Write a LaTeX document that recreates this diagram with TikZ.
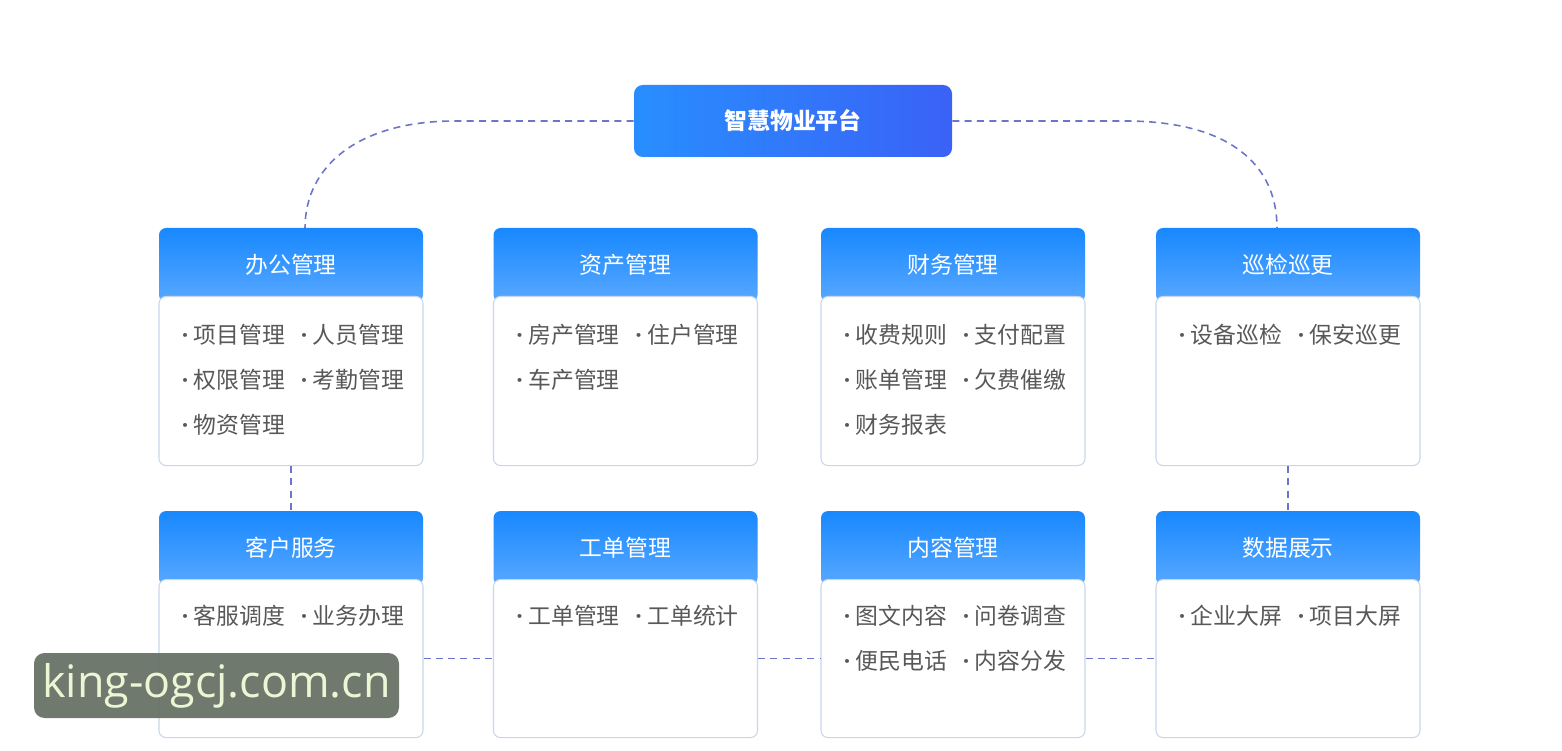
\documentclass[tikz,border=0pt]{standalone}
\usepackage{fontspec}
\usepackage{array}
\setmainfont{Noto Sans CJK SC}
\newfontfamily\wmfont{Open Sans}
\usetikzlibrary{positioning}
\definecolor{hdtop}{RGB}{24,136,255}
\definecolor{hdbot}{RGB}{88,168,255}
\definecolor{ttlleft}{RGB}{40,142,255}
\definecolor{ttlright}{RGB}{58,98,246}
\definecolor{cardline}{RGB}{200,214,238}
\definecolor{itemgray}{RGB}{88,88,88}
\definecolor{linkblue}{RGB}{108,118,200}
\definecolor{wmbg}{RGB}{104,114,102}
\definecolor{wmtext}{RGB}{234,246,212}
% 列表列格式：窄圆点 + 文字
\newcolumntype{D}{>{\makebox[0.24cm][l]{\wmfont\bfseries·}}p{2.38cm}}
\newcolumntype{E}{>{\makebox[0.24cm][l]{\wmfont\bfseries·}}l}
\begin{document}
\begin{tikzpicture}[
        every node/.style={
            font=\fontsize{13}{25.6}\selectfont
        },
        platform/.style={
            minimum width=6.36cm,
            minimum height=1.44cm,
            rounded corners=5pt,
            left color=ttlleft,
            right color=ttlright,
            text=white,
            font=\fontsize{13}{15}\selectfont\bfseries
        },
        header/.style={
            minimum width=5.28cm,
            minimum height=1.48cm,
            inner sep=0pt,
            outer sep=0pt,
            rounded corners=4pt,
            top color=hdtop,
            bottom color=hdbot,
            text=white
        },
        body/.style={
            minimum width=5.28cm,
            draw=cardline,
            line width=0.6pt,
            fill=white,
            rounded corners=4pt
        },
        items/.style={
            anchor=north west,
            inner sep=0pt,
            text=itemgray
        },
        link/.style={
            draw=linkblue,
            line width=0.9pt,
            dash pattern=on 4pt off 3pt
        },
        watermark/.style={
            fill=wmbg,
            fill opacity=0.95,
            text opacity=1,
            rounded corners=6pt,
            minimum width=7.3cm,
            minimum height=1.3cm,
            text=wmtext,
            font=\wmfont\fontsize{25.5}{30}\selectfont
        }
    ]
    \path[use as bounding box, fill=white] (0,0) rectangle (31.24,-15.02);

    % 顶部 - 平台
    \node[platform] (top) at (15.86,-2.42) {智慧物业平台};

    % 第一行模块
    \node[header, anchor=north west] (hd1) at (3.18,-4.56) {办公管理};
    \node[header, right=1.41cm of hd1] (hd2) {资产管理};
    \node[header, right=1.27cm of hd2] (hd3) {财务管理};
    \node[header, right=1.42cm of hd3] (hd4) {巡检巡更};
    \node[body, minimum height=3.38cm, below=-0.12cm of hd1] (bd1) {};
    \node[body, minimum height=3.38cm, below=-0.12cm of hd2] (bd2) {};
    \node[body, minimum height=3.38cm, below=-0.12cm of hd3] (bd3) {};
    \node[body, minimum height=3.38cm, below=-0.12cm of hd4] (bd4) {};

    % 第二行模块
    \node[header, below=0.9cm of bd1] (hd5) {客户服务};
    \node[header, right=1.41cm of hd5] (hd6) {工单管理};
    \node[header, right=1.27cm of hd6] (hd7) {内容管理};
    \node[header, right=1.42cm of hd7] (hd8) {数据展示};
    \node[body, minimum height=3.16cm, below=-0.12cm of hd5] (bd5) {};
    \node[body, minimum height=3.16cm, below=-0.12cm of hd6] (bd6) {};
    \node[body, minimum height=3.16cm, below=-0.12cm of hd7] (bd7) {};
    \node[body, minimum height=3.16cm, below=-0.12cm of hd8] (bd8) {};

    % 功能列表
    \node[items] (it1) at ([shift={(0.46,-0.32)}]bd1.north west) {%
        \begin{tabular}{@{}D@{}E@{}}
        项目管理 & 人员管理\\
        权限管理 & 考勤管理\\
        物资管理
        \end{tabular}};
    \node[items] (it2) at ([shift={(0.46,-0.32)}]bd2.north west) {%
        \begin{tabular}{@{}D@{}E@{}}
        房产管理 & 住户管理\\
        车产管理
        \end{tabular}};
    \node[items] (it3) at ([shift={(0.46,-0.32)}]bd3.north west) {%
        \begin{tabular}{@{}D@{}E@{}}
        收费规则 & 支付配置\\
        账单管理 & 欠费催缴\\
        财务报表
        \end{tabular}};
    \node[items] (it4) at ([shift={(0.46,-0.32)}]bd4.north west) {%
        \begin{tabular}{@{}D@{}E@{}}
        设备巡检 & 保安巡更
        \end{tabular}};
    \node[items] (it5) at ([shift={(0.46,-0.28)}]bd5.north west) {%
        \begin{tabular}{@{}D@{}E@{}}
        客服调度 & 业务办理
        \end{tabular}};
    \node[items] (it6) at ([shift={(0.46,-0.28)}]bd6.north west) {%
        \begin{tabular}{@{}D@{}E@{}}
        工单管理 & 工单统计
        \end{tabular}};
    \node[items] (it7) at ([shift={(0.46,-0.28)}]bd7.north west) {%
        \begin{tabular}{@{}D@{}E@{}}
        图文内容 & 问卷调查\\
        便民电话 & 内容分发
        \end{tabular}};
    \node[items] (it8) at ([shift={(0.46,-0.28)}]bd8.north west) {%
        \begin{tabular}{@{}D@{}E@{}}
        企业大屏 & 项目大屏
        \end{tabular}};

    % 虚线连接
    \draw[link] (top.west) -- (9.1,-2.42)
        .. controls (7.2,-2.42) and (6.1,-3.3) .. ([xshift=0.28cm]hd1.north);
    \draw[link] (top.east) -- (22.5,-2.42)
        .. controls (24.6,-2.42) and (25.54,-3.3) .. ([xshift=-0.22cm]hd4.north);
    \draw[link] (bd1.south) -- (hd5.north);
    \draw[link] (bd4.south) -- (hd8.north);
    \draw[link] (bd5.east) -- (bd6.west);
    \draw[link] (bd6.east) -- (bd7.west);
    \draw[link] (bd7.east) -- (bd8.west);

    % 水印
    \node[watermark] (wm) at (4.33,-13.71) {king-ogcj.com.cn};
\end{tikzpicture}
\end{document}
